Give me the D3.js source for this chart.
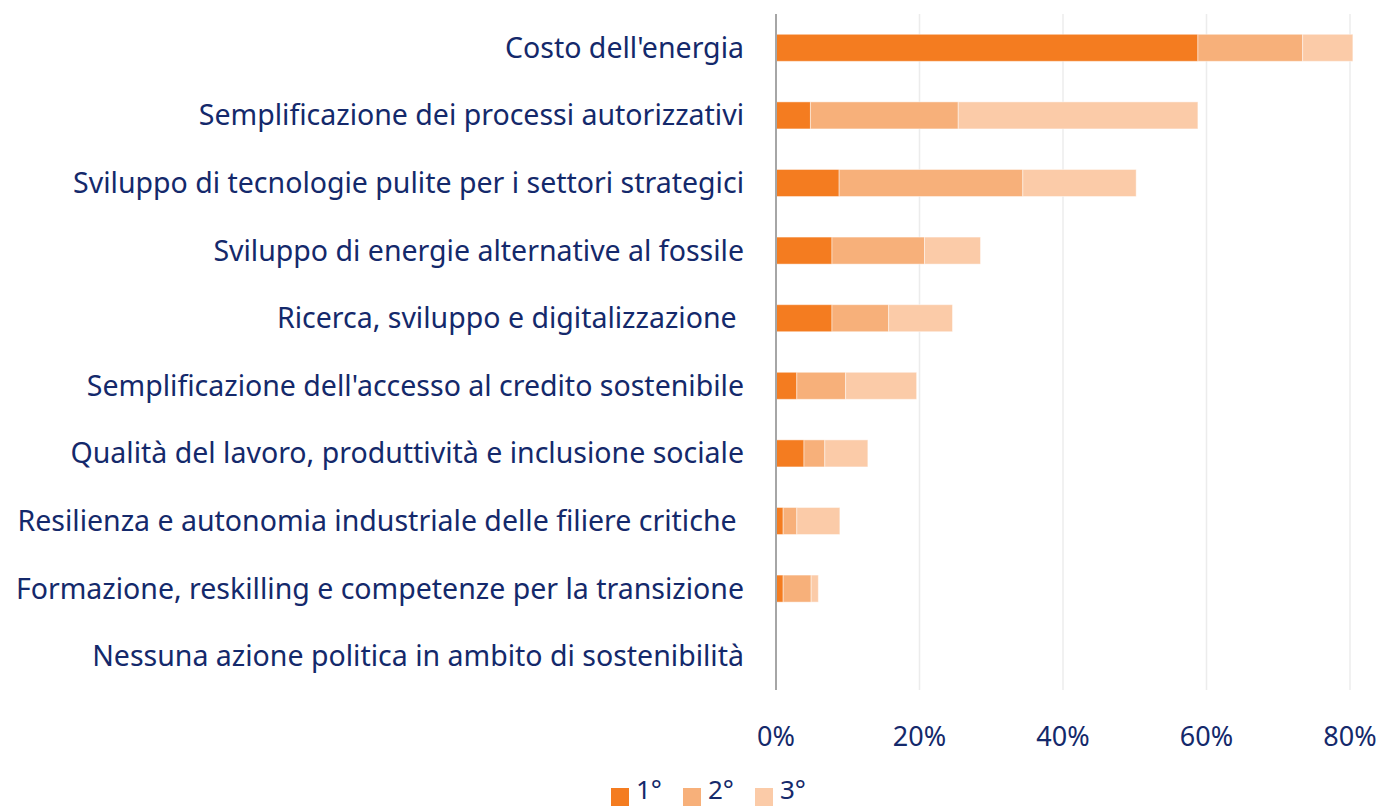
<!DOCTYPE html>
<html>
<head>
<meta charset="utf-8">
<script src="https://cdn.jsdelivr.net/npm/d3@7"></script>
<style>
  body { margin: 0; background: #fff; }
  text { font-family: "Noto Sans", "Open Sans", sans-serif; fill: #14296b; white-space: pre; }
</style>
</head>
<body>
<div id="chart"></div>
<script>
const categories = [
  "Costo dell'energia",
  "Semplificazione dei processi autorizzativi",
  "Sviluppo di tecnologie pulite per i settori strategici",
  "Sviluppo di energie alternative al fossile",
  "Ricerca, sviluppo e digitalizzazione ",
  "Semplificazione dell'accesso al credito sostenibile",
  "Qualità del lavoro, produttività e inclusione sociale",
  "Resilienza e autonomia industriale delle filiere critiche ",
  "Formazione, reskilling e competenze per la transizione",
  "Nessuna azione politica in ambito di sostenibilità"
];
const first  = [58.8, 4.8, 8.8, 7.8, 7.8, 2.9, 3.9, 1.0, 1.0, 0];
const second = [14.6, 20.6, 25.6, 12.9, 7.9, 6.8, 2.9, 1.9, 3.9, 0];
const third  = [7.0, 33.4, 15.8, 7.8, 8.9, 9.9, 6.0, 6.0, 1.0, 0];
const seriesNames = ["1°", "2°", "3°"];
const xTicks = [0, 20, 40, 60, 80];

const W = 1384, H = 809;
const m = { top: 14, right: 34, bottom: 119, left: 776 };
const w = W - m.left - m.right;
const h = H - m.top - m.bottom;
const colors = ['#f47c20', '#f7b07a', '#fbcba8'];

const svg = d3.select('#chart').append('svg').attr('width', W).attr('height', H);
const g = svg.append('g').attr('transform', `translate(${m.left},${m.top})`);

const x = d3.scaleLinear().domain([0, 80]).range([0, 574]);
const y = d3.scaleBand().domain(categories).range([0, h]).paddingInner(0.6).paddingOuter(0.3);

const rows = categories.map((c, i) => ({ cat: c, '1°': first[i], '2°': second[i], '3°': third[i] }));
const stacked = d3.stack().keys(seriesNames)(rows);

// Grid
g.selectAll('.grid').data(xTicks.slice(1)).join('line')
  .attr('x1', d => x(d)).attr('x2', d => x(d))
  .attr('y1', 0).attr('y2', h)
  .attr('stroke', '#ececec').attr('stroke-width', 1.5);

// Bars
g.selectAll('.series').data(stacked).join('g')
  .attr('fill', (d, i) => colors[i])
  .selectAll('rect').data(d => d).join('rect')
  .attr('x', d => x(d[0]))
  .attr('y', d => y(d.data.cat))
  .attr('width', d => x(d[1]) - x(d[0]))
  .attr('height', y.bandwidth())
  .attr('stroke', '#fff').attr('stroke-opacity', 0.45).attr('stroke-width', 1);

// Axis line
g.append('line').attr('x1', 0).attr('x2', 0).attr('y1', 0).attr('y2', h)
  .attr('stroke', '#a6a6a6').attr('stroke-width', 2);

// Category labels
g.selectAll('.cat').data(categories).join('text')
  .attr('x', -32)
  .attr('y', d => y(d) + y.bandwidth() / 2)
  .attr('dy', '0.35em')
  .attr('text-anchor', 'end')
  .attr('font-size', 28.5)
  .text(d => d);

// X tick labels
g.selectAll('.tick').data(xTicks).join('text')
  .attr('x', d => x(d))
  .attr('y', h + 47)
  .attr('dy', '0.35em')
  .attr('text-anchor', 'middle')
  .attr('font-size', 27)
  .text(d => d + '%');

// Legend
const lg = svg.append('g').attr('transform', 'translate(611,790)');
const item = lg.selectAll('g').data(seriesNames).join('g')
  .attr('transform', (d, i) => `translate(${i * 72},0)`);
item.append('rect').attr('x', 0).attr('y', -2).attr('width', 18).attr('height', 18)
  .attr('fill', (d, i) => colors[i]);
item.append('text').attr('x', 25).attr('y', 0).attr('dy', '0.35em')
  .attr('font-size', 26).text(d => d);
</script>
</body>
</html>
